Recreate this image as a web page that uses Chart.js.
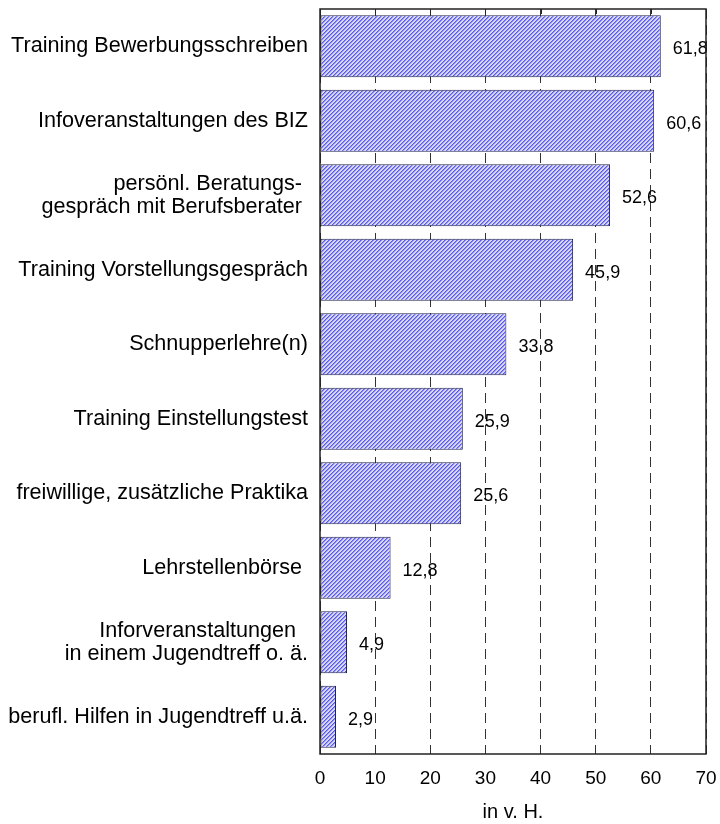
<!DOCTYPE html>
<html lang="de">
<head>
<meta charset="utf-8">
<title>Angebote zur Berufsorientierung</title>
<script src="https://cdn.jsdelivr.net/npm/chart.js@4.4.1/dist/chart.umd.min.js"></script>
<style>
  html, body { margin: 0; padding: 0; background: #fff; }
  #wrap { width: 720px; height: 824px; position: relative; }
</style>
</head>
<body>
<div id="wrap"><canvas id="offersChart"></canvas></div>
<script>
        // Data: share of respondents per offer (in v. H.)
        const categories = [
            'Training Bewerbungsschreiben',
            'Infoveranstaltungen des BIZ',
            ['persönl. Beratungs- ', 'gespräch mit Berufsberater '],
            'Training Vorstellungsgespräch',
            'Schnupperlehre(n)',
            'Training Einstellungstest',
            'freiwillige, zusätzliche Praktika',
            'Lehrstellenbörse ',
            ['Inforveranstaltungen  ', 'in einem Jugendtreff o. ä.'],
            'berufl. Hilfen in Jugendtreff u.ä.'
        ];
        const shares = [61.8, 60.6, 52.6, 45.9, 33.8, 25.9, 25.6, 12.8, 4.9, 2.9];
        const xTicks = [0, 10, 20, 30, 40, 50, 60, 70];
        const axisTitle = 'in v. H.';

        const FONT = "'Liberation Sans', Arial, sans-serif";

        // Hatch fill: fine blue upward diagonals on lavender
        function makeHatch() {
            const tile = document.createElement('canvas');
            tile.width = 4; tile.height = 4;
            const t = tile.getContext('2d');
            t.fillStyle = '#d6d6fc';
            t.fillRect(0, 0, 4, 4);
            for (let y = 0; y < 4; y++) {
                for (let x = 0; x < 4; x++) {
                    const k = (x + y) % 4;
                    if (k === 0) { t.fillStyle = '#5a5ae2'; t.fillRect(x, y, 1, 1); }
                    if (k === 1) { t.fillStyle = '#9090ee'; t.fillRect(x, y, 1, 1); }
                }
            }
            return t.createPattern(tile, 'repeat');
        }

        // Value labels right of each bar, decimal comma
        const valueLabels = {
            id: 'valueLabels',
            afterDatasetsDraw: (chart) => {
                const { ctx } = chart;
                const meta = chart.getDatasetMeta(0);
                ctx.save();
                ctx.font = '18px ' + FONT;
                ctx.fillStyle = '#000';
                ctx.textAlign = 'left';
                ctx.textBaseline = 'middle';
                meta.data.forEach((bar, i) => {
                    const txt = shares[i].toFixed(1).replace('.', ',');
                    ctx.fillText(txt, bar.x + 12, bar.y + 3);
                });
                ctx.restore();
            }
        };

        // Solid frame round the plot and small tick marks along the top edge
        const plotFrame = {
            id: 'plotFrame',
            afterDraw: (chart) => {
                const { ctx, chartArea: a, scales } = chart;
                ctx.save();
                ctx.strokeStyle = '#222';
                ctx.lineWidth = 1.5;
                ctx.setLineDash([]);
                ctx.strokeRect(a.left, a.top, a.right - a.left, a.bottom - a.top);
                ctx.lineWidth = 1;
                xTicks.slice(1, -1).forEach(v => {
                    const x = Math.round(scales.x.getPixelForValue(v)) + 0.5;
                    ctx.beginPath();
                    ctx.moveTo(x, a.top);
                    ctx.lineTo(x, a.top + 5);
                    ctx.stroke();
                });
                ctx.restore();
            }
        };

        const ctx = document.getElementById('offersChart').getContext('2d');
        new Chart(ctx, {
            type: 'bar',
            data: {
                labels: categories,
                datasets: [{
                    data: shares,
                    backgroundColor: makeHatch(),
                    borderColor: '#23234a',
                    borderWidth: 1,
                    borderSkipped: false,
                    categoryPercentage: 1,
                    barPercentage: 0.83
                }]
            },
            options: {
                indexAxis: 'y',
                responsive: true, maintainAspectRatio: false,
                animation: false,
                layout: { padding: { top: 9, right: 14, left: 0, bottom: 0 } },
                scales: {
                    x: {
                        min: 0, max: 70,
                        afterBuildTicks: (scale) => { scale.ticks = xTicks.map(v => ({ value: v })); },
                        afterFit: (scale) => {
                            scale.height = 70;
                            scale.paddingLeft = 0;
                            scale.paddingRight = 0;
                        },
                        ticks: { color: '#000', font: { family: FONT, size: 19 }, padding: 13, maxRotation: 0 },
                        grid: { color: '#333', lineWidth: 1, drawTicks: false },
                        border: { display: false, dash: [10, 6] },
                        title: {
                            display: true, text: axisTitle, color: '#000',
                            font: { family: FONT, size: 20 },
                            padding: { top: 0, bottom: 0 }
                        }
                    },
                    y: {
                        afterFit: (scale) => {
                            scale.width = 320;
                            scale.paddingTop = 0;
                            scale.paddingBottom = 0;
                        },
                        ticks: {
                            color: '#000',
                            font: { family: FONT, size: 21.6, lineHeight: 1.05 },
                            padding: 12,
                            autoSkip: false
                        },
                        grid: { display: false, drawTicks: false },
                        border: { display: false }
                    }
                },
                plugins: { legend: { display: false }, tooltip: { enabled: false } }
            },
            plugins: [valueLabels, plotFrame]
        });
</script>
</body>
</html>
